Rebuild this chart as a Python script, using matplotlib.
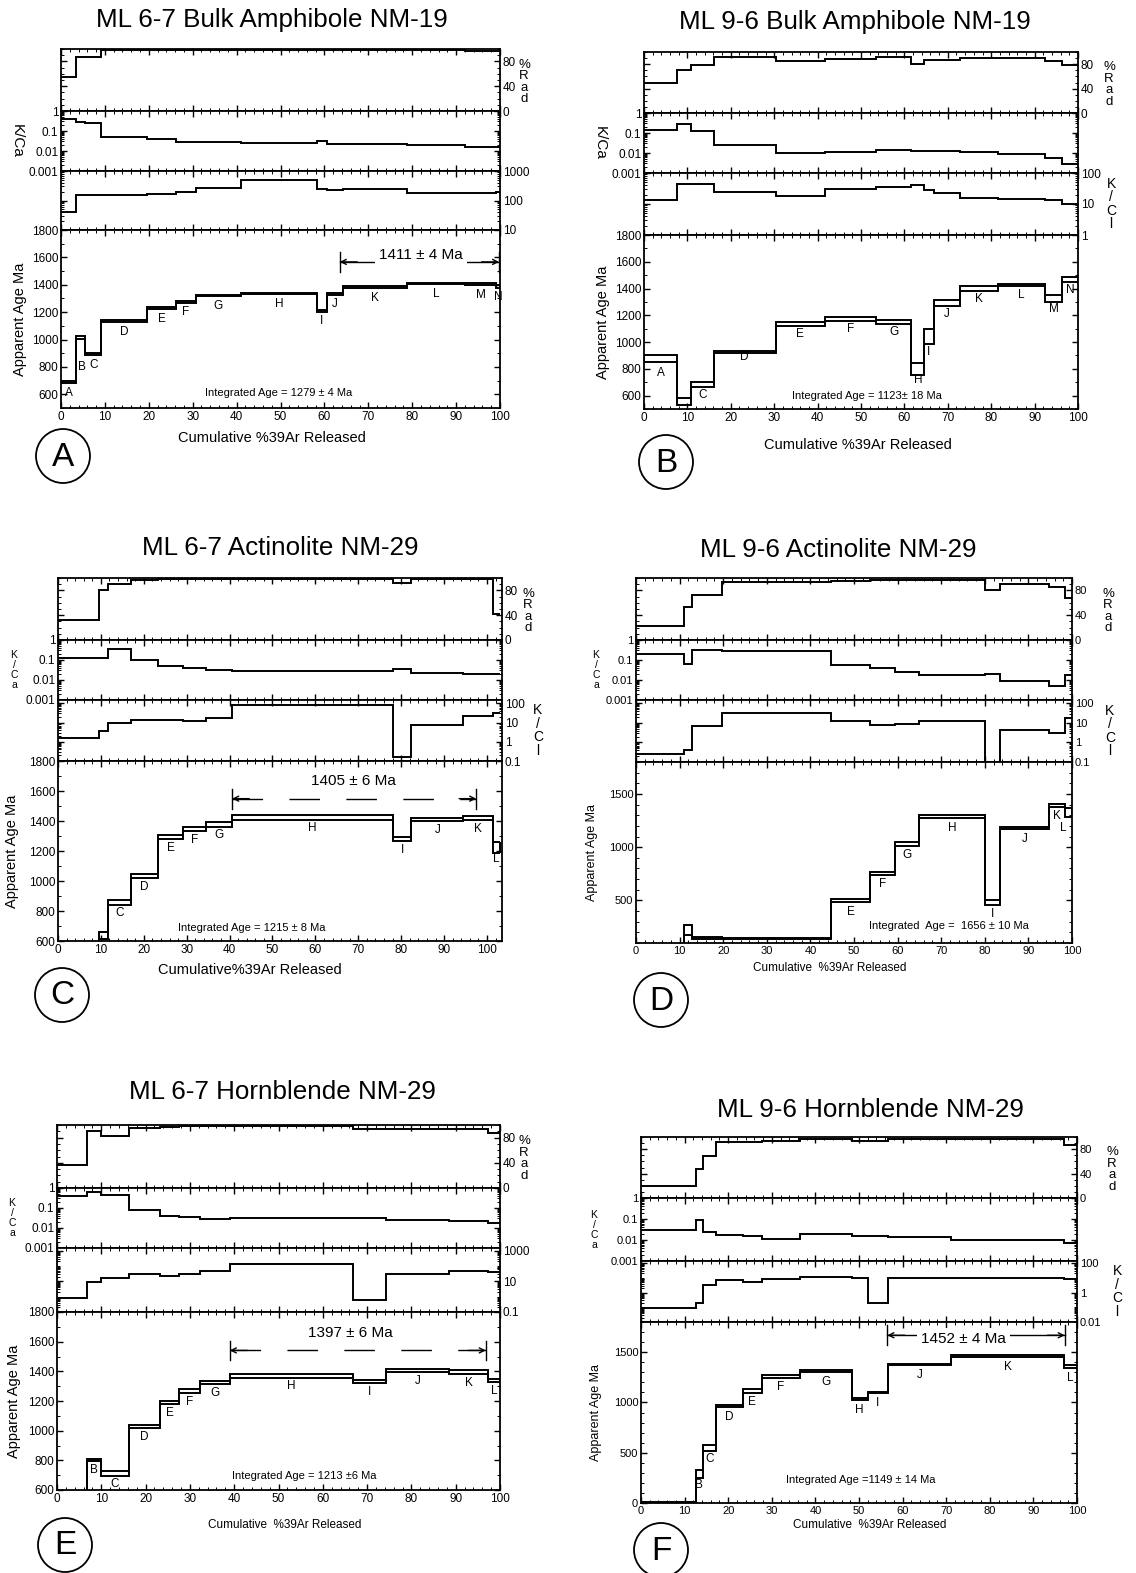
import numpy as np
import matplotlib.pyplot as plt
import matplotlib.ticker as mticker
from matplotlib.patches import Circle

plt.rcParams["font.family"] = ["Liberation Sans", "DejaVu Sans"]
plt.rcParams["axes.linewidth"] = 1.3

W, H = 1136, 1573

# step-heating results: cumulative %39Ar edges, apparent age (Ma) with error,
# % radiogenic, K/Ca and K/Cl for every step A, B, C ...

# ML 6-7 Bulk Amphibole NM-19
a_edges = [0, 3.5, 5.5, 9.2, 19.5, 26.3, 30.7, 41.0, 58.3, 60.6, 64.3, 78.8, 92.0, 99.2, 100]
a_age = [687, 1016, 895, 1135, 1227, 1277, 1322, 1337, 1210, 1335, 1384, 1411, 1405, 1388]
a_err = [8, 10, 8, 8, 7, 7, 6, 5, 8, 7, 5, 5, 5, 8]
a_rad = [55, 87, 87, 99, 99, 99, 99, 99, 98, 98, 98, 98, 97, 96]
a_kca = [0.38, 0.27, 0.24, 0.051, 0.038, 0.028, 0.028, 0.026, 0.033, 0.023, 0.022, 0.021, 0.016, 0.016]
a_kcl = [42, 148, 148, 148, 166, 198, 260, 510, 254, 225, 254, 175, 175, 190]

# ML 9-6 Bulk Amphibole NM-19
b_edges = [0, 7.7, 10.8, 16.1, 30.3, 41.7, 53.5, 61.6, 64.6, 66.8, 72.8, 81.5, 92.4, 96.3, 100]
b_age = [878, 555, 683, 928, 1135, 1173, 1153, 797, 1045, 1290, 1397, 1427, 1324, 1466]
b_err = [25, 28, 21, 8, 15, 15, 15, 43, 56, 21, 19, 8, 25, 18]
b_rad = [50, 71, 79, 91, 85.5, 88, 92.5, 80, 86.6, 86.6, 90, 90, 84.5, 79]
b_kca = [0.148, 0.28, 0.13, 0.025, 0.0102, 0.011, 0.0136, 0.012, 0.012, 0.012, 0.011, 0.0091, 0.0055, 0.0028]
b_kcl = [13, 45, 45, 25, 18, 31, 35, 40, 29, 23, 16, 14, 13, 10]

# ML 6-7 Actinolite NM-29
c_edges = [0, 9.5, 11.6, 17.0, 23.4, 29.2, 34.6, 40.6, 78.0, 82.4, 94.5, 101.3, 103.0]
c_age = [560, 639, 858, 1035, 1295, 1348, 1377, 1423, 1280, 1410, 1418, 1222]
c_err = [10, 23, 16, 13, 12, 15, 14, 14, 14, 12, 14, 38]
c_rad = [32, 80, 90, 96, 98, 99, 99, 99, 92.5, 99, 98, 42.5]
c_kca = [0.12, 0.12, 0.35, 0.096, 0.051, 0.04, 0.033, 0.029, 0.035, 0.023, 0.02, 0.02]
c_kcl = [1.5, 3.6, 9.3, 13.5, 13, 12.5, 17.6, 80, 0.16, 7.7, 22, 32]

# ML 9-6 Actinolite NM-29
d_edges = [0, 11.1, 12.9, 19.7, 44.7, 53.7, 59.5, 64.9, 80.0, 83.5, 94.7, 98.5, 100]
d_age = [60, 222, 150, 139, 497, 753, 1029, 1286, 479, 1180, 1393, 1328]
d_err = [10, 45, 8, 5, 13, 12, 19, 12, 21, 10, 16, 44]
d_rad = [22, 54, 73, 93, 95, 97, 97, 97, 81, 91, 86, 68]
d_kca = [0.2, 0.063, 0.3, 0.27, 0.057, 0.039, 0.024, 0.018, 0.02, 0.0085, 0.0052, 0.018]
d_kcl = [0.26, 0.43, 7.4, 34, 12, 8.3, 9.2, 12, 0.1, 4.6, 2.9, 18]

# ML 6-7 Hornblende NM-29
e_edges = [0, 6.8, 10.0, 16.2, 23.3, 27.6, 32.3, 39.0, 66.8, 74.3, 88.5, 97.3, 100]
e_age = [560, 804, 712, 1030, 1191, 1266, 1327, 1371, 1331, 1405, 1396, 1338]
e_err = [10, 8, 15, 9, 9, 15, 11, 14, 12, 9, 12, 12]
e_rad = [37, 90, 82, 96, 97, 98, 98, 98, 94, 94, 94, 87]
e_kca = [0.4, 0.6, 0.45, 0.08, 0.04, 0.035, 0.027, 0.033, 0.03, 0.025, 0.022, 0.018]
e_kcl = [0.78, 8.5, 17, 28, 21, 28, 46, 129, 0.6, 31, 46, 42]

# ML 9-6 Hornblende NM-29
f_edges = [0, 12.5, 14.3, 17.3, 23.3, 27.7, 36.5, 48.3, 52.0, 56.7, 71.1, 97.0, 100]
f_age = [4, 290, 545, 963, 1113, 1258, 1312, 1037, 1098, 1379, 1460, 1355]
f_err = [4, 38, 29, 11, 16, 16, 10, 11, 8, 8, 8, 16]
f_rad = [19.5, 47, 69.5, 92, 92, 93.7, 96, 93.7, 93.7, 96, 96, 87]
f_kca = [0.03, 0.085, 0.025, 0.018, 0.015, 0.011, 0.019, 0.016, 0.015, 0.0133, 0.0102, 0.0076]
f_kcl = [0.085, 0.2, 3.5, 6.9, 5.6, 7.9, 11, 9.2, 0.2, 9.2, 9.2, 7.9]

titles = ["ML 6-7 Bulk Amphibole NM-19", "ML 9-6 Bulk Amphibole NM-19",
          "ML 6-7 Actinolite NM-29", "ML 9-6 Actinolite NM-29",
          "ML 6-7 Hornblende NM-29", "ML 9-6 Hornblende NM-29"]
integrated = ["Integrated Age = 1279 \u00b1 4 Ma", "Integrated Age = 1123\u00b1 18 Ma",
              "Integrated Age = 1215 \u00b1 8 Ma", "Integrated  Age =  1656 \u00b1 10 Ma",
              "Integrated Age = 1213 \u00b16 Ma", "Integrated Age =1149 \u00b1 14 Ma"]
plateau_a = (63.5, 99.8, 1411, 4)
plateau_c = (40.6, 97.5, 1405, 6)
plateau_e = (39.0, 96.8, 1397, 6)
plateau_f = (56.5, 97.2, 1452, 4)

panels = [
    dict(tag="A", edges=a_edges, age=a_age, err=a_err, rad=a_rad, kca=a_kca, kcl=a_kcl,
         box=(61, 500, [49, 111, 171, 230, 408]), title_xy=(272, 20), tag_xy=(63, 456),
         xlim=(0, 100), age_lim=(500, 1800), age_ticks=range(600, 1801, 200), age_minor=100,
         kcl_lim=(10, 1000), kcl_ticks=[10, 100, 1000], xlabel="Cumulative %39Ar Released",
         xlabel_xy=(272, 438), xlabel_fs=10.5, ylabel_fs=10.5, tick_fs=8.5,
         integ=(integrated[0], 49.6, 613), plateau=plateau_a, plateau_text=(82, 1615),
         dashed=False, hide="", shift={"B": (0.2, -0.105)}, kca_rot=True, kcl_label=False,
         rad_dx=24, kca_dx=-44, age_dx=-41, kcl_dx=34),
    dict(tag="B", edges=b_edges, age=b_age, err=b_err, rad=b_rad, kca=b_kca, kcl=b_kcl,
         box=(644, 1078, [52, 113, 173, 235, 409]), title_xy=(855, 22), tag_xy=(666, 462),
         xlim=(0, 100), age_lim=(500, 1800), age_ticks=range(600, 1801, 200), age_minor=100,
         kcl_lim=(1, 100), kcl_ticks=[1, 10, 100], xlabel="Cumulative %39Ar Released",
         xlabel_xy=(858, 445), xlabel_fs=10.5, ylabel_fs=10.5, tick_fs=8.5,
         integ=(integrated[1], 51.3, 600), plateau=None, plateau_text=None,
         dashed=False, hide="B", shift={"A": (0, -0.026), "I": (-0.2, -0.03), "D": (0, 0.03)},
         kca_rot=True, kcl_label=True, rad_dx=31, kca_dx=-44, age_dx=-41, kcl_dx=33),
    dict(tag="C", edges=c_edges, age=c_age, err=c_err, rad=c_rad, kca=c_kca, kcl=c_kcl,
         box=(58, 502, [578, 640, 700, 761, 941]), title_xy=(280, 548), tag_xy=(62, 995),
         xlim=(0, 103.5), age_lim=(600, 1800), age_ticks=range(600, 1801, 200), age_minor=100,
         kcl_lim=(0.1, 150), kcl_ticks=[0.1, 1, 10, 100], xlabel="Cumulative%39Ar Released",
         xlabel_xy=(250, 970), xlabel_fs=10.5, ylabel_fs=10.5, tick_fs=8.5,
         integ=(integrated[2], 45.2, 690), plateau=plateau_c, plateau_text=(68.8, 1668),
         dashed=True, hide="AB", shift={}, kca_rot=False, kcl_label=True,
         rad_dx=26, kca_dx=-44, age_dx=-46, kcl_dx=36),
    dict(tag="D", edges=d_edges, age=d_age, err=d_err, rad=d_rad, kca=d_kca, kcl=d_kcl,
         box=(636, 1072, [578, 640, 700, 762, 943]), title_xy=(838, 550), tag_xy=(661, 1000),
         xlim=(0, 100), age_lim=(100, 1800), age_ticks=[500, 1000, 1500], age_minor=100,
         kcl_lim=(0.1, 150), kcl_ticks=[0.1, 1, 10, 100], xlabel="Cumulative  %39Ar Released",
         xlabel_xy=(830, 968), xlabel_fs=8.5, ylabel_fs=9, tick_fs=8,
         integ=(integrated[3], 71.7, 258), plateau=None, plateau_text=None,
         dashed=False, hide="ABCD", shift={"L": (-1.3, -0.025)}, kca_rot=False, kcl_label=True,
         rad_dx=36, kca_dx=-40, age_dx=-44, kcl_dx=38),
    dict(tag="E", edges=e_edges, age=e_age, err=e_err, rad=e_rad, kca=e_kca, kcl=e_kcl,
         box=(57, 500, [1125, 1188, 1248, 1312, 1490]), title_xy=(282, 1092), tag_xy=(65, 1545),
         xlim=(0, 100), age_lim=(600, 1800), age_ticks=range(600, 1801, 200), age_minor=100,
         kcl_lim=(0.1, 1500), kcl_ticks=[0.1, 10, 1000], xlabel="Cumulative  %39Ar Released",
         xlabel_xy=(285, 1525), xlabel_fs=8.5, ylabel_fs=10.5, tick_fs=8.5,
         integ=(integrated[4], 55.7, 692), plateau=plateau_e, plateau_text=(66.2, 1657),
         dashed=True, hide="A", shift={}, kca_rot=False, kcl_label=False,
         rad_dx=24, kca_dx=-45, age_dx=-43, kcl_dx=36),
    dict(tag="F", edges=f_edges, age=f_age, err=f_err, rad=f_rad, kca=f_kca, kcl=f_kcl,
         box=(641, 1077, [1137, 1198, 1261, 1322, 1503]), title_xy=(870, 1110), tag_xy=(661, 1550),
         xlim=(0, 100), age_lim=(0, 1800), age_ticks=[0, 500, 1000, 1500], age_minor=100,
         kcl_lim=(0.01, 140), kcl_ticks=[0.01, 1, 100], xlabel="Cumulative  %39Ar Released",
         xlabel_xy=(870, 1525), xlabel_fs=8.5, ylabel_fs=9, tick_fs=8,
         integ=(integrated[5], 50.4, 226), plateau=plateau_f, plateau_text=(74, 1630),
         dashed=False, hide="A", shift={}, kca_rot=False, kcl_label=True,
         rad_dx=35, kca_dx=-47, age_dx=-45, kcl_dx=40),
]

fig = plt.figure(figsize=(W / 100, H / 100), dpi=100)


def px_axes(l, t, r, b):
    return fig.add_axes([l / W, 1 - b / H, (r - l) / W, (b - t) / H])


def ftext(x, y, s, **kw):
    return fig.text(x / W, 1 - y / H, s, **kw)


def fmt(v):
    return f"{v:g}"


def base_style(ax, xlim, fs):
    ax.set_xlim(*xlim)
    ax.xaxis.set_major_locator(mticker.FixedLocator(np.arange(0, 101, 10)))
    ax.xaxis.set_minor_locator(mticker.MultipleLocator(2))
    ax.tick_params(which="both", direction="in", top=True, bottom=True,
                   left=True, right=True, labelsize=fs, pad=2, labelbottom=False)
    ax.tick_params(which="major", length=4, width=1)
    ax.tick_params(which="minor", length=2, width=0.7)


def log_axis(ax, lim, ticks):
    ax.set_yscale("log")
    ax.set_ylim(*lim)
    ax.set_yticks(ticks, labels=[fmt(t) for t in ticks])
    ax.yaxis.set_minor_locator(mticker.LogLocator(base=10, subs=np.arange(1, 10), numticks=30))
    ax.yaxis.set_minor_formatter(mticker.NullFormatter())


def draw_plateau(ax, spec):
    x0, x1, value, err = spec["plateau"]
    lo, hi = spec["age_lim"]
    rng = hi - lo
    y = value + 0.12 * rng
    ls = (0, (22, 19)) if spec["dashed"] else "-"
    ax.plot([x0, x1], [y, y], color="k", lw=1, ls=ls)
    for xa, xb in ((x0 + 4, x0), (x1 - 4, x1)):
        ax.annotate("", xy=(xb, y), xytext=(xa, y),
                    arrowprops=dict(arrowstyle="->", lw=1, color="k",
                                    shrinkA=0, shrinkB=0, mutation_scale=9))
    for xb in (x0, x1):
        ax.plot([xb, xb], [y - 0.055 * rng, y + 0.055 * rng], color="k", lw=1)
    tx, ty = spec["plateau_text"]
    ax.text(tx, ty, f"{value} \u00b1 {err} Ma", ha="center", va="center", fontsize=11,
            bbox=dict(facecolor="white", edgecolor="none", pad=3))


def draw_panel(p):
    l, r, rows = p["box"]
    axs = [px_axes(l, rows[i], r, rows[i + 1]) for i in range(4)]
    ax_rad, ax_kca, ax_kcl, ax_age = axs
    for ax in axs:
        base_style(ax, p["xlim"], p["tick_fs"])
    edges = np.array(p["edges"])
    line = dict(color="k", lw=1.4, baseline=None)

    # % radiogenic
    ax_rad.stairs(p["rad"], edges, **line)
    ax_rad.set_ylim(0, 100)
    ax_rad.set_yticks([0, 40, 80])
    ax_rad.yaxis.set_minor_locator(mticker.MultipleLocator(10))
    ax_rad.tick_params(labelleft=False, labelright=True)

    # K/Ca
    ax_kca.stairs(p["kca"], edges, **line)
    log_axis(ax_kca, (0.001, 1), [0.001, 0.01, 0.1, 1])

    # K/Cl
    ax_kcl.stairs(p["kcl"], edges, **line)
    log_axis(ax_kcl, p["kcl_lim"], p["kcl_ticks"])
    ax_kcl.tick_params(which="both", labelleft=False, labelright=True)

    # apparent age spectrum, boxes drawn as upper and lower step lines
    age = np.array(p["age"], float)
    err = np.array(p["err"], float)
    up, lo = age + err, age - err
    ax_age.stairs(up, edges, **line)
    ax_age.stairs(lo, edges, **line)
    ax_age.vlines([edges[0], edges[-1]], [lo[0], lo[-1]], [up[0], up[-1]], color="k", lw=1.4)
    ax_age.set_ylim(*p["age_lim"])
    ax_age.set_yticks(list(p["age_ticks"]))
    ax_age.yaxis.set_minor_locator(mticker.MultipleLocator(p["age_minor"]))
    ax_age.tick_params(labelbottom=True)

    rng = p["age_lim"][1] - p["age_lim"][0]
    for i in range(len(age)):
        letter = chr(65 + i)
        if letter in p["hide"]:
            continue
        dx, dy = p["shift"].get(letter, (0, 0))
        xm = 0.5 * (edges[i] + edges[i + 1]) + dx
        ax_age.text(xm, age[i] - 0.06 * rng + dy * rng, letter, ha="center", va="center",
                    fontsize=8.5)

    it, ix, iy = p["integ"]
    ax_age.text(ix, iy, it, ha="center", va="center", fontsize=8)
    if p["plateau"] is not None:
        draw_plateau(ax_age, p)

    # titles and side labels
    tx, ty = p["title_xy"]
    ftext(tx, ty, titles["ABCDEF".index(p["tag"])], ha="center", va="center", fontsize=18.7)
    xx, xy = p["xlabel_xy"]
    ftext(xx, xy, p["xlabel"], ha="center", va="center", fontsize=p["xlabel_fs"])
    yc = 0.5 * (rows[3] + rows[4])
    ftext(l + p["age_dx"], yc, "Apparent Age Ma", rotation=90, ha="center", va="center",
          fontsize=p["ylabel_fs"])
    ftext(r + p["rad_dx"], 0.5 * (rows[0] + rows[1]) + 2, "%\nR\na\nd", ha="center",
          va="center", fontsize=9.5, linespacing=0.95)
    kc = 0.5 * (rows[1] + rows[2])
    if p["kca_rot"]:
        ftext(l + p["kca_dx"], kc, "K/Ca", rotation=270, ha="center", va="center", fontsize=11)
    else:
        ftext(l + p["kca_dx"], kc, "K\n/\nC\na", ha="center", va="center", fontsize=7.5,
              linespacing=1.0)
    if p["kcl_label"]:
        ftext(r + p["kcl_dx"], 0.5 * (rows[2] + rows[3]), "K\n/\nC\nl", ha="center",
              va="center", fontsize=10, linespacing=0.95)

    cx, cy = p["tag_xy"]
    fig.add_artist(Circle((cx / 100, (H - cy) / 100), 0.27, transform=fig.dpi_scale_trans,
                          fill=False, lw=1.3, color="k"))
    ftext(cx, cy + 1, p["tag"], ha="center", va="center", fontsize=24)


for spec in panels:
    draw_panel(spec)

fig.savefig("out.png", dpi=100)
